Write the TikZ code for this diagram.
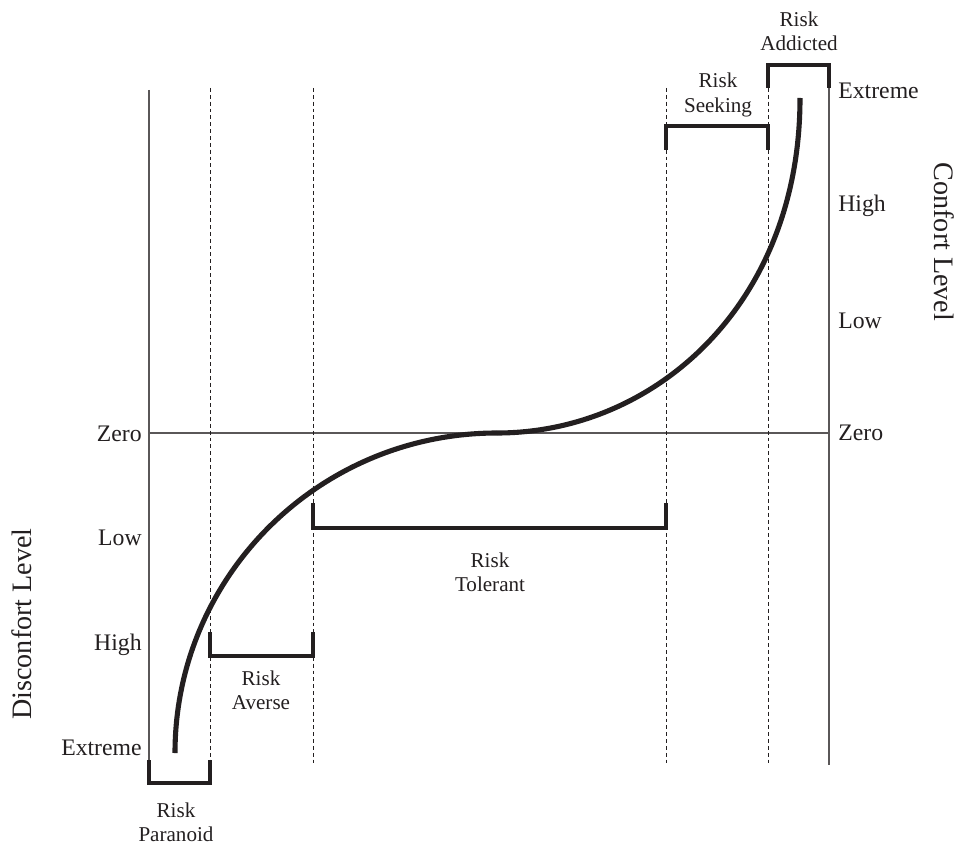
\documentclass[tikz,border=0pt]{standalone}
\usepackage{fontspec}
\setmainfont{Liberation Serif}
\usepackage{tikz}
\usetikzlibrary{positioning, calc}

\definecolor{ink}{HTML}{231F20}

\begin{document}
\begin{tikzpicture}[
    axisline/.style={draw=ink!75, line width=0.6pt},
    guide/.style={draw=ink, line width=0.45pt, dash pattern=on 2.2pt off 1.7pt},
    bracket/.style={draw=ink, line width=2.4pt},
    curve/.style={draw=ink, line width=2.9pt},
    level/.style={text=ink, font=\fontsize{13.5}{15}\selectfont, inner sep=0pt, text height=1.45ex, text depth=0.25ex},
    zone/.style={text=ink, font=\fontsize{12}{13.8}\selectfont, align=center, inner sep=0pt},
    axistitle/.style={text=ink, font=\fontsize{16}{18}\selectfont, inner sep=0pt}
]
\useasboundingbox (0,0) rectangle (19.12,16.88);

% Axes
\draw[axisline] (2.98, 15.08) -- (2.98, 1.68);
\draw[axisline] (16.58, 15.12) -- (16.58, 1.58);
\draw[axisline] (2.98, 8.22) -- (16.58, 8.22);

% Guides
\draw[guide] (4.2, 15.12) -- (4.2, 1.62);
\draw[guide] (6.26, 15.12) -- (6.26, 1.62);
\draw[guide] (13.32, 15.12) -- (13.32, 1.62);
\draw[guide] (15.36, 15.12) -- (15.36, 1.62);

% Curve
\coordinate (bottom) at (3.5, 1.82);
\coordinate (mid) at (9.94, 8.22);
\coordinate (top) at (16.0, 14.92);
\draw[curve] (bottom) .. controls (3.5, 5.35) and (6.38, 8.22) .. (mid);
\draw[curve] (mid) .. controls (13.1, 8.22) and (16.0, 10.8) .. (top);

% Brackets
\draw[bracket] (2.98, 1.68) -- (2.98, 1.22) -- (4.2, 1.22) -- (4.2, 1.68);
\draw[bracket] (4.2, 4.24) -- (4.2, 3.76) -- (6.26, 3.76) -- (6.26, 4.24);
\draw[bracket] (6.26, 6.82) -- (6.26, 6.32) -- (13.32, 6.32) -- (13.32, 6.82);
\draw[bracket] (13.32, 13.88) -- (13.32, 14.36) -- (15.36, 14.36) -- (15.36, 13.88);
\draw[bracket] (15.36, 15.12) -- (15.36, 15.58) -- (16.58, 15.58) -- (16.58, 15.12);

% Zone labels
\node[zone] (paranoid) at (3.52, 0.44) {Risk\\Paranoid};
\node[zone] (averse) at (5.22, 3.08) {Risk\\Averse};
\node[zone] (tolerant) at (9.8, 5.44) {Risk\\Tolerant};
\node[zone] (seeking) at (14.36, 14.98) {Risk\\Seeking};
\node[zone] (addicted) at (15.98, 16.26) {Risk\\Addicted};

% Discomfort levels
\node[level, anchor=east] (dzero) at (2.84, 8.15) {Zero};
\node[level, anchor=east] (dlow) at (2.84, 6.07) {Low};
\node[level, anchor=east] (dhigh) at (2.84, 3.97) {High};
\node[level, anchor=east] (dextreme) at (2.84, 1.87) {Extreme};

% Comfort levels
\node[level, anchor=west] (cextreme) at (16.76, 15.0) {Extreme};
\node[level, anchor=west] (chigh) at (16.76, 12.74) {High};
\node[level, anchor=west] (clow) at (16.76, 10.4) {Low};
\node[level, anchor=west] (czero) at (16.76, 8.16) {Zero};

% Axis titles
\node[axistitle, rotate=-90] (comfort) at (18.88, 12.04) {Confort Level};
\node[axistitle, rotate=90] (discomfort) at (0.44, 4.4) {Disconfort Level};

\end{tikzpicture}
\end{document}
